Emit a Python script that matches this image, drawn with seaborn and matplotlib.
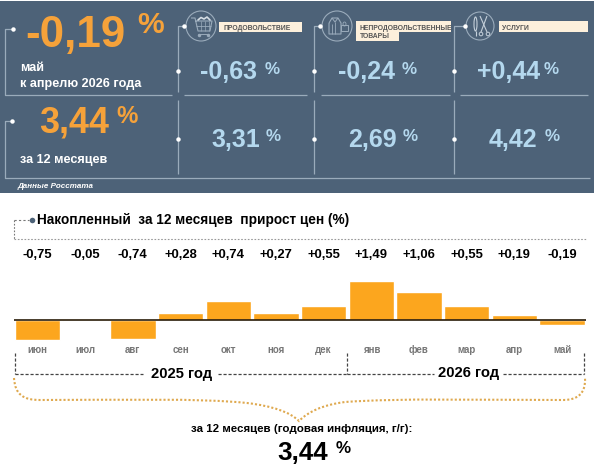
#!/usr/bin/env python
# -*- coding: utf-8 -*-

import numpy as np
import pandas as pd
import matplotlib
matplotlib.use("Agg")
import matplotlib.pyplot as plt
from matplotlib.patches import Circle, Ellipse, PathPatch, Rectangle
from matplotlib.path import Path
import seaborn as sns

# # # # # data # # # # #

MONTHS = ["июн", "июл", "авг", "сен", "окт", "ноя", "дек", "янв", "фев", "мар", "апр", "май"]
MONTH_CHANGE = [-0.75, -0.05, -0.74, 0.28, 0.74, 0.27, 0.55, 1.49, 1.06, 0.55, 0.19, -0.19]
MONTH_LABELS = ["-0,75", "-0,05", "-0,74", "+0,28", "+0,74", "+0,27", "+0,55", "+1,49", "+1,06", "+0,55", "+0,19", "-0,19"]

CATEGORIES = ["ПРОДОВОЛЬСТВИЕ", "НЕПРОДОВОЛЬСТВЕННЫЕ", "УСЛУГИ"]
CAT_MONTH = ["-0,63", "-0,24", "+0,44"]
CAT_YEAR = ["3,31", "2,69", "4,42"]

# # # # # colours # # # # #

PANEL = "#4d6278"
LINE = "#9aabbb"
ORANGE = "#f6a23a"
BLUE = "#b4d8ee"
BAR = "#fca61e"
CREAM = "#fdf0dc"

sns.set_theme(style="white")
plt.rcParams["font.family"] = ["Liberation Sans", "DejaVu Sans"]

W, H = 595, 468
fig = plt.figure(figsize=(W / 100, H / 100), dpi=100, facecolor="white")

# page axes in pixels
page = fig.add_axes([0, 0, 1, 1])
page.set_xlim(0, W)
page.set_ylim(H, 0)
page.axis("off")


def txt(x, y, s, px, color="black", weight="bold", ha="left", **kw):
	page.text(x, y, s, fontsize=px * 0.72, color=color, fontweight=weight, ha=ha, va="baseline", **kw)


def seg(xs, ys, color=LINE, lw=0.9, ls="-"):
	page.plot(xs, ys, color=color, lw=lw, ls=ls, solid_capstyle="butt")


def dot(x, y, color="white", size=3.2):
	page.plot([x], [y], "o", color=color, ms=size, mew=0)


# # # PANEL # # #

page.add_patch(Rectangle((0, 1), 594, 192, fc=PANEL, ec="none"))

# frame lines on the left
seg([13, 5, 5, 172], [29, 29, 95, 95])
seg([12, 5, 5, 590], [121, 121, 178, 178])
dot(13, 29)
dot(12, 121)

# column lines
for col_x, tick_x, a, b in [(178, 184, 184, 307), (314, 320, 321, 450), (454, 465, 460, 588)]:
	seg([tick_x, col_x, col_x], [26, 26, 92])
	seg([col_x, col_x], [100, 174])
	seg([a, b], [95, 95])
	dot(col_x, 71)
	dot(col_x, 139)

# main numbers
txt(25, 46.5, "-0,19", 44, ORANGE)
txt(137, 33, "%", 30, ORANGE)
txt(20, 71, "май", 12.6, "white")
txt(20, 87, "к апрелю 2026 года", 12.6, "white")
txt(39, 132.5, "3,44", 36, ORANGE)
txt(116, 123, "%", 24, ORANGE)
txt(20, 163, "за 12 месяцев", 12.6, "white")
txt(18, 188.5, "Данные Росстата", 8, "white", style="italic")

# category numbers
for i, x in enumerate([200, 338, 477]):
	txt(x, 79, CAT_MONTH[i], 25, BLUE)
for i, x in enumerate([211, 348, 489]):
	txt(x, 147, CAT_YEAR[i], 25, BLUE)
for x in [265, 402, 544]:
	txt(x, 74, "%", 17, BLUE)
	txt(x + 1, 141, "%", 17, BLUE)

# category boxes
page.add_patch(Rectangle((219, 22), 83, 10, fc=CREAM, ec="none"))
page.add_patch(Rectangle((356, 21), 95, 11, fc=CREAM, ec="none"))
page.add_patch(Rectangle((356, 32), 43, 9, fc=CREAM, ec="none"))
page.add_patch(Rectangle((499, 21), 89, 11, fc=CREAM, ec="none"))
txt(223, 30, CATEGORIES[0], 6.8, "#555555")
txt(359.5, 29.5, CATEGORIES[1], 6.8, "#555555")
txt(359.5, 38.5, "ТОВАРЫ", 6.8, "#555555")
txt(502, 29.5, CATEGORIES[2], 6.8, "#555555")

# icons
for x, r in [(201, 15), (337, 15), (480, 14)]:
	page.add_patch(Circle((x, 26), r, fc=PANEL, ec=LINE, lw=0.8))
for x in [184, 320, 465]:
	dot(x, 26)

# cart
seg([191, 195, 198, 210, 212, 195], [18, 18, 31, 31, 21, 21], lw=0.8)
seg([196, 211], [26, 26], lw=0.6)
for x in [201, 205, 209]:
	seg([x, x], [21, 31], lw=0.5)
page.plot([198, 201, 204, 207, 210], [20, 17.5, 19, 17, 20], color="#d5dde4", lw=1.2)
seg([198, 208], [33.5, 33.5], lw=0.7)
dot(199, 35, LINE, 2.5)
dot(208, 35, LINE, 2.5)

# jacket and bag
seg([329, 332, 338, 341, 341, 329, 329], [23, 18, 18, 23, 34, 34, 23], lw=0.8)
seg([332, 335, 338], [18, 22, 18], lw=0.7)
seg([335, 335], [22, 34], lw=0.6)
seg([332, 332], [24, 34], lw=0.6)
page.add_patch(Rectangle((341, 25), 7, 6, fc=PANEL, ec=LINE, lw=0.7))
page.add_patch(Ellipse((344.5, 24), 3, 4, fc="none", ec=LINE, lw=0.6))

# scissors and tool
page.add_patch(Ellipse((475.5, 24), 3, 14, fc="none", ec="#c5d0da", lw=0.8))
seg([475.5, 475.5], [31, 36], "#c5d0da", 0.8)
seg([480, 487], [16, 32], "#c5d0da", 0.8)
seg([487, 481], [16, 32], "#c5d0da", 0.8)
page.add_patch(Circle((481, 34), 1.8, fc="none", ec="#c5d0da", lw=0.7))
page.add_patch(Circle((488, 34), 1.8, fc="none", ec="#c5d0da", lw=0.7))

# # # TITLE # # #

dot(31.5, 219.5, "#4d6278", 4)
seg([14, 29], [219.5, 219.5], "#777777", 0.8, (0, (2, 2)))
seg([13.5, 13.5], [219.5, 238.5], "#777777", 0.8, (0, (1.5, 1.5)))
seg([13.5, 586], [238.5, 238.5], "#999999", 0.8, (0, (1.5, 1.5)))
txt(37, 224, "Накопленный  за 12 месяцев  прирост цен (%)", 13.6)

# # # BARS # # #

PX_PER_UNIT = 26.0
bar_top, bar_bottom = 270, 345
bar_ax = fig.add_axes([13.65 / W, 1 - bar_bottom / H, 572.2 / W, (bar_bottom - bar_top) / H])
bar_ax.patch.set_alpha(0)

bar_df = pd.DataFrame({"month": MONTHS, "change": MONTH_CHANGE})
sns.barplot(data=bar_df, x="month", y="change", order=MONTHS, color=BAR, saturation=1, width=0.95, ax=bar_ax)

bar_ax.set_xlim(-0.5, len(MONTHS) - 0.5)
bar_ax.set_ylim((320 - bar_bottom) / PX_PER_UNIT, (320 - bar_top) / PX_PER_UNIT)
bar_ax.axhline(0, color="#2a1c08", lw=1.2)
bar_ax.set_xlabel("")
bar_ax.set_ylabel("")
bar_ax.set_yticks([])
bar_ax.tick_params(axis="x", length=0, pad=0, labelsize=7.0, labelcolor="#777777")
for lab in bar_ax.get_xticklabels():
	lab.set_fontweight("bold")
sns.despine(ax=bar_ax, left=True, bottom=True)

# values above the chart
for i, lab in enumerate(MONTH_LABELS):
	bar_ax.text(i, (320 - 258) / PX_PER_UNIT, lab, fontsize=9.4, fontweight="bold", color="black", ha="center", va="baseline")

# # # YEARS # # #

DASH = (0, (2.5, 1.5))
seg([14.5, 14.5], [353, 374], "#444444", 0.9, DASH)
seg([347, 347], [353, 374], "#444444", 0.9, DASH)
seg([584, 584], [353, 374], "#444444", 0.9, DASH)
seg([14.5, 143], [374, 374], "#444444", 0.9, DASH)
seg([218, 347], [374, 374], "#444444", 0.9, DASH)
seg([347, 434], [374, 374], "#444444", 0.9, DASH)
seg([503, 584], [374, 374], "#444444", 0.9, DASH)
txt(151, 378, "2025 год", 14.8)
txt(438, 376.5, "2026 год", 14.8)

# # # BRACE # # #

brace_verts = [(14, 378), (15, 395), (24, 400), (40, 400),
	(120, 400), (200, 398), (247, 403), (272, 406), (290, 412), (299, 421),
	(308, 412), (322, 405), (345, 402), (400, 398), (480, 400), (563, 400),
	(576, 400), (586, 395), (585, 378)]
brace_codes = [Path.MOVETO] + [Path.CURVE4] * 18
page.add_patch(PathPatch(Path(brace_verts, brace_codes), fc="none", ec="#dfa94f", lw=1.5, ls=(0, (1, 1))))

# # # BOTTOM TEXT # # #

txt(302, 432, "за 12 месяцев (годовая инфляция, г/г):", 11.5, ha="center")
txt(277, 460, "3,44", 26)
txt(336, 453, "%", 17)

fig.savefig("out.png", dpi=100, facecolor="white")
